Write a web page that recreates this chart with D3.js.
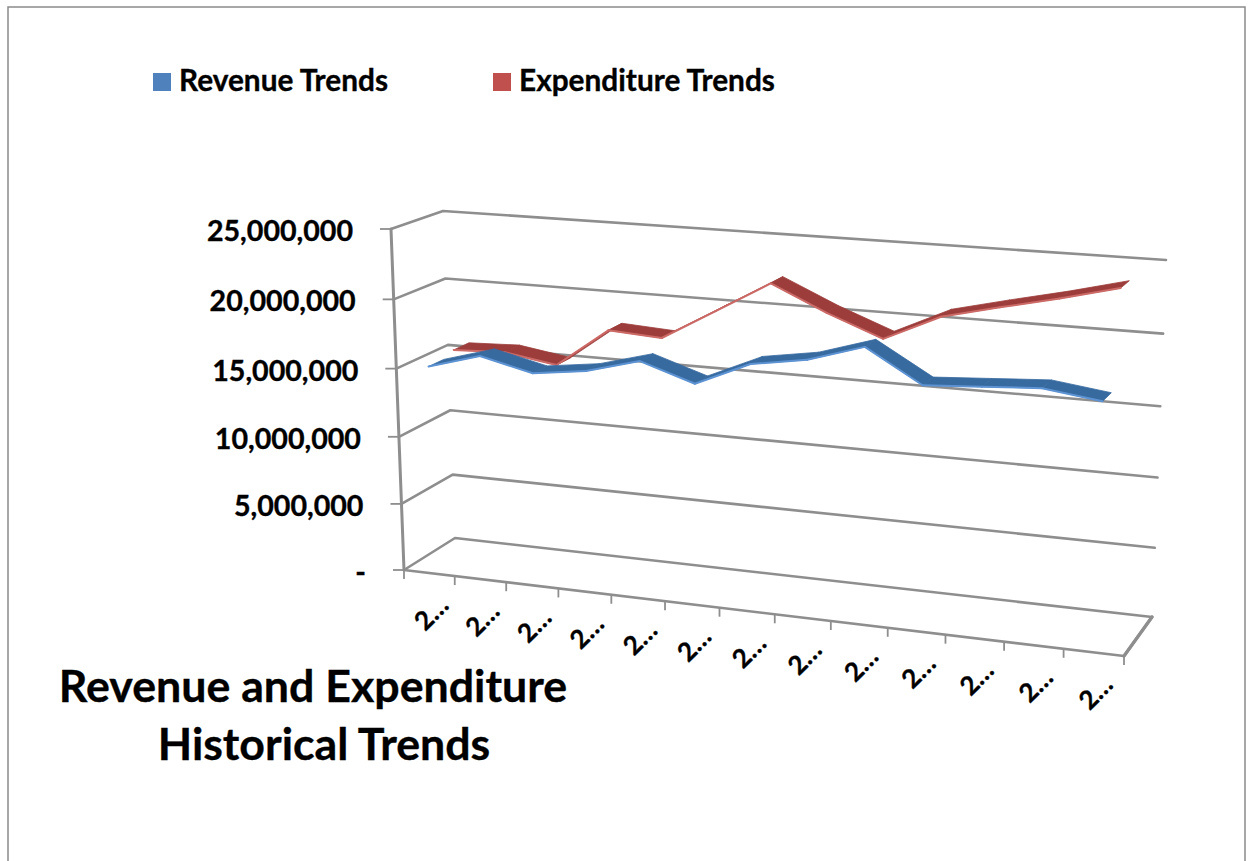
<!DOCTYPE html>
<html>
<head>
<meta charset="utf-8">
<script src="https://cdn.jsdelivr.net/npm/d3@7"></script>
<style>
  html, body { margin: 0; padding: 0; background: #fff; }
  svg { display: block; }
  text { font-family: Lato, "Open Sans", sans-serif; font-weight: 700; fill: #000; stroke: #000; stroke-width: 0.35px; }
</style>
</head>
<body>
<svg id="chart" width="1254" height="861"></svg>
<script>
// Chart values
const categories = ["2…","2…","2…","2…","2…","2…","2…","2…","2…","2…","2…","2…","2…"];
const revenue = [15.2e6,16.3e6,15.4e6,15.9e6,16.95e6,15.7e6,17.42e6,18.05e6,19.27e6,17e6,17.25e6,17.5e6,16.98e6];
const expenditure = [15.55e6,15.7e6,15.1e6,17.95e6,17.72e6,19.95e6,22.2e6,20.45e6,18.95e6,20.8e6,21.75e6,22.65e6,23.65e6];
const valueTicks = [0,5e6,10e6,15e6,20e6,25e6];
const seriesNames = ["Revenue Trends","Expenditure Trends"];
const titleLines = ["Revenue and Expenditure","Historical Trends"];

// Corners of the 3D plot box on the page: front plane and back wall
const box = {
  front: { bl:[404,570], tl:[391,229], br:[1124,656], tr:[1138,284] },
  back:  { bl:[455,538], tl:[443,211], br:[1152,617], tr:[1166,260] }
};
const persp = (t, k) => t / (t + k * (1 - t));
const uScale = d3.scaleLinear().domain([0, categories.length]).range([0, 1]);
const pointU = d3.scaleLinear().domain([0, categories.length - 1]).range([0.042, 0.959]);
const vScale = d3.scaleLinear().domain([0, 25e6]).range([0, 1]);
const lerp = (a, b, t) => a + (b - a) * t;

// Map (horizontal fraction, value, depth fraction) to page coordinates
function project(u, value, w) {
  const p = persp(u, 1.099), q = persp(vScale(value), 1.04);
  const plane = c => [0, 1].map(d => lerp(
    lerp(c.bl[d], c.br[d], p),
    lerp(c.tl[d], c.tr[d], p), q));
  const f = plane(box.front), b = plane(box.back);
  return [lerp(f[0], b[0], w), lerp(f[1], b[1], w)];
}

const svg = d3.select("#chart");
const line = d3.line();
const gridColor = "#8e8e8e";

// Outer chart frame
svg.append("rect").attr("x", 8).attr("y", 7).attr("width", 1237).attr("height", 880)
  .attr("fill", "#fff").attr("stroke", "#8a8a8a").attr("stroke-width", 1.5);

// Gridlines on the side and back walls
const grid = svg.append("g").attr("fill", "none").attr("stroke", gridColor)
  .attr("stroke-width", 2.6).attr("stroke-linecap", "round").attr("stroke-linejoin", "round");
grid.selectAll("path.wall").data(valueTicks).join("path").attr("class", "wall")
  .attr("d", v => line([project(0, v, 0), project(0, v, 1), project(1, v, 1)]));

// Floor front edge, right edge and vertical axis
grid.append("path").attr("d", line([project(0, 0, 0), project(1, 0, 0), project(1, 0, 1)]));
grid.append("path").attr("stroke-width", 3).attr("d", line([project(0, 0, 0), project(0, 25e6, 0)]));
grid.append("path").attr("stroke-width", 3.4).attr("d", line([project(1, 0, 0), project(1, 0, 1)]));

// Value ticks and labels
const valueFormat = d3.format(",");
const yAxis = svg.append("g");
valueTicks.forEach(v => {
  const [x, y] = project(0, v, 0);
  yAxis.append("line").attr("x1", x - 11).attr("x2", x).attr("y1", y).attr("y2", y)
    .attr("stroke", gridColor).attr("stroke-width", 1.8);
  yAxis.append("text").attr("x", x - 38).attr("y", y + 12)
    .attr("text-anchor", "end").attr("font-size", 28.6)
    .text(v === 0 ? "-" : valueFormat(v));
});

// Category ticks and truncated labels
const xAxis = svg.append("g");
d3.range(categories.length + 1).forEach(i => {
  const [x, y] = project(uScale(i), 0, 0);
  xAxis.append("line").attr("x1", x).attr("x2", x).attr("y1", y).attr("y2", y + 9)
    .attr("stroke", gridColor).attr("stroke-width", 1.8);
});
categories.forEach((c, i) => {
  const [x, y] = project(uScale(i + 0.5), 0, 0);
  xAxis.append("text")
    .attr("transform", `translate(${x + 2},${y + 40}) rotate(-45)`)
    .attr("text-anchor", "middle").attr("dy", "0.35em").attr("font-size", 26)
    .text(c);
});

// 3D ribbons, one quad per segment
function ribbon(values, w0, w1, dark, light) {
  const g = svg.append("g");
  d3.pairs(values.map((v, i) => ({ v, i }))).forEach(([a, b]) => {
    const ua = pointU(a.i), ub = pointU(b.i);
    const quad = [project(ua, a.v, w0), project(ub, b.v, w0), project(ub, b.v, w1), project(ua, a.v, w1)];
    g.append("path").attr("d", line(quad) + "Z").attr("fill", dark)
      .attr("stroke", dark).attr("stroke-width", 0.8).attr("stroke-linejoin", "round");
    g.append("path").attr("d", line(quad.slice(0, 2))).attr("fill", "none")
      .attr("stroke", light).attr("stroke-width", 2).attr("stroke-linecap", "round");
  });
}
ribbon(expenditure, 0.58, 0.88, "#9c3d3b", "#cc6a67");
ribbon(revenue, 0.08, 0.38, "#376a9f", "#5d93d3");

// Legend
const legend = svg.append("g");
[[153, "#4f81bd"], [493, "#c0504d"]].forEach(([x, color], i) => {
  legend.append("rect").attr("x", x).attr("y", 73).attr("width", 18).attr("height", 18).attr("fill", color);
  legend.append("text").attr("x", x + 26).attr("y", 91).attr("font-size", 29.8).text(seriesNames[i]);
});

// Title
svg.append("text").attr("x", 313).attr("y", 702).attr("text-anchor", "middle").attr("font-size", 44.7).text(titleLines[0]);
svg.append("text").attr("x", 324).attr("y", 760).attr("text-anchor", "middle").attr("font-size", 44.7).text(titleLines[1]);
</script>
</body>
</html>
